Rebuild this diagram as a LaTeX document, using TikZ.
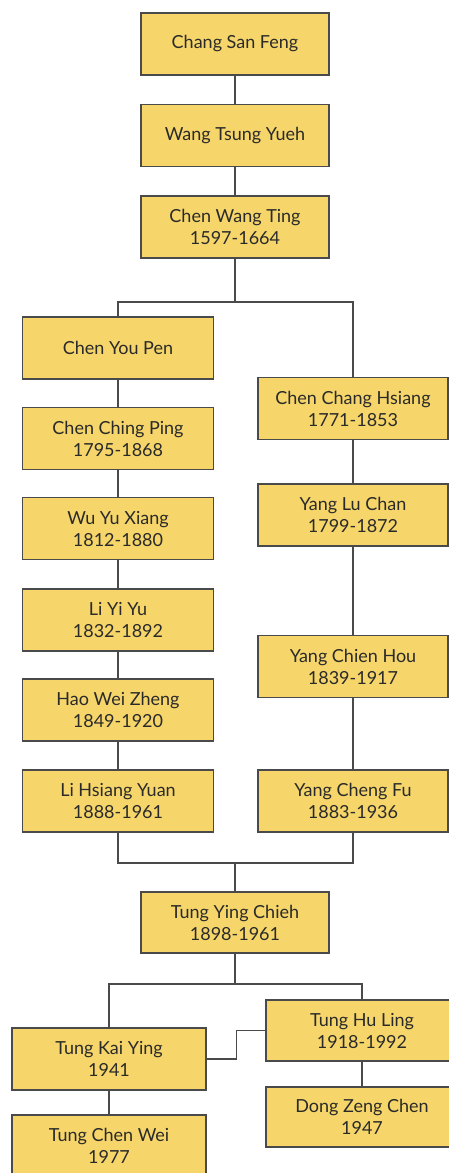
\documentclass[tikz,border=0pt]{standalone}
\usepackage{fontspec}
\setmainfont{Lato}
\definecolor{boxfill}{HTML}{F6D66A}
\definecolor{linec}{HTML}{4A4A4A}
\definecolor{textc}{HTML}{2A2A2A}
\begin{document}
\begin{tikzpicture}[x=1pt,y=-1pt,
  person/.style={draw=linec, line width=1.3pt, fill=boxfill, text=textc, align=center,
    font=\fontsize{18}{22}\selectfont, inner sep=0pt, minimum height=62pt},
  colw/.style={minimum width=191pt},
  link/.style={draw=linec, line width=1.3pt}]
\useasboundingbox (0,0) rectangle (449,1173);
\clip (0,0) rectangle (449,1173);
% top trunk
\node[person, minimum width=188pt] (csf) at (235,44) {Chang San Feng};
\node[person, minimum width=188pt] (wty) at (235,135.5) {Wang Tsung Yueh};
\node[person, minimum width=188pt] (cwt) at (235,227) {Chen Wang Ting\\1597-1664};
% left column
\node[person, colw] (cyp) at (118,348) {Chen You Pen};
\node[person, colw] (ccp) at (118,438.5) {Chen Ching Ping\\1795-1868};
\node[person, colw] (wyx) at (118,528.5) {Wu Yu Xiang\\1812-1880};
\node[person, colw] (lyy) at (118,620) {Li Yi Yu\\1832-1892};
\node[person, colw] (hwz) at (118,710) {Hao Wei Zheng\\1849-1920};
\node[person, colw] (lhy) at (118,801) {Li Hsiang Yuan\\1888-1961};
% right column
\node[person, minimum width=190pt] (cch) at (353,408.5) {Chen Chang Hsiang\\1771-1853};
\node[person, minimum width=190pt] (ylc) at (353,515) {Yang Lu Chan\\1799-1872};
\node[person, minimum width=190pt] (ych) at (353,666.5) {Yang Chien Hou\\1839-1917};
\node[person, minimum width=190pt] (ycf) at (353,801) {Yang Cheng Fu\\1883-1936};
% lower part
\node[person, minimum width=188pt, minimum height=61pt] (tyc) at (235,922.5) {Tung Ying Chieh\\1898-1961};
\node[person, minimum width=194pt] (tky) at (109,1059) {Tung Kai Ying\\1941};
\node[person, minimum width=192pt, minimum height=61pt] (thl) at (362,1030.5) {Tung Hu Ling\\1918-1992};
\node[person, minimum width=192pt, minimum height=60pt] (dzc) at (362,1117) {Dong Zeng Chen\\1947};
\node[person, minimum width=194pt] (tcw) at (109,1146) {Tung Chen Wei\\1977};
% junctions
\coordinate (br1) at (235,302);
\coordinate (mg) at (235,863);
\coordinate (br2) at (235,984);
% connectors
\draw[link] (csf) -- (wty);
\draw[link] (wty) -- (cwt);
\draw[link] (cwt) -- (br1);
\draw[link] (cyp.north) |- (br1) -| (cch.north);
\draw[link] (cyp) -- (ccp);
\draw[link] (ccp) -- (wyx);
\draw[link] (wyx) -- (lyy);
\draw[link] (lyy) -- (hwz);
\draw[link] (hwz) -- (lhy);
\draw[link] (cch) -- (ylc);
\draw[link] (ylc) -- (ych);
\draw[link] (ych) -- (ycf);
\draw[link] (lhy.south) |- (mg) -| (ycf.south);
\draw[link] (mg) -- (tyc.north);
\draw[link] (tyc) -- (br2);
\draw[link] (tky.north) |- (br2) -| (thl.north);
\draw[link] (tky.east) -- ++(30,0) |- (thl.west);
\draw[link] (tky) -- (tcw);
\draw[link] (thl) -- (dzc);
\end{tikzpicture}
\end{document}
